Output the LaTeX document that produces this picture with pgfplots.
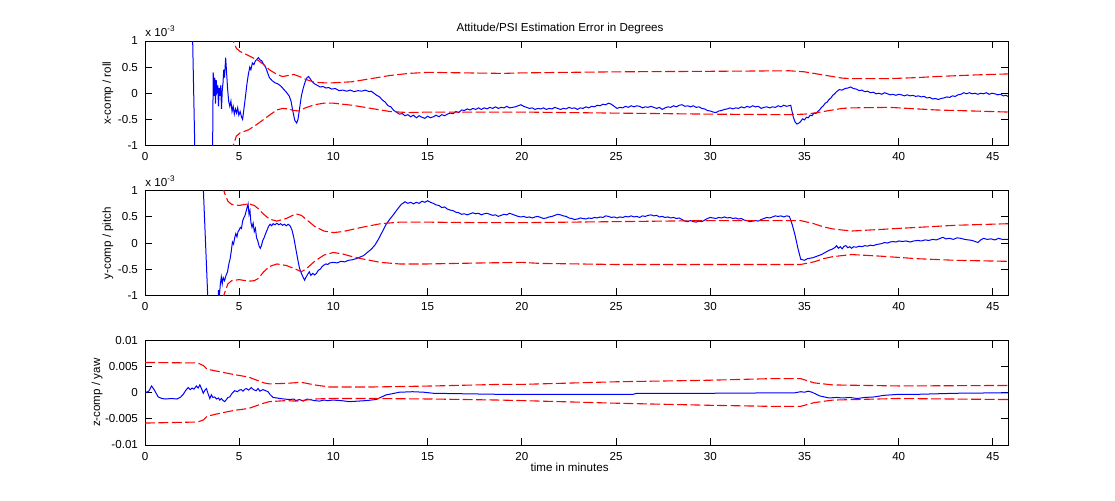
\documentclass[border=0pt]{standalone}
\usepackage{fontspec}
\setmainfont{Liberation Sans}
\usepackage{pgfplots}
\pgfplotsset{compat=1.18}
\definecolor{mblue}{RGB}{0,0,255}
\definecolor{mred}{RGB}{255,0,0}
\newcommand{\sm}{\fontsize{5.8}{7}\selectfont}

\pgfplotsset{
  errpanel/.style={
    scale only axis, width=431.5pt, height=52.25pt,
    anchor=south west,
    xmin=0, xmax=45.8,
    xtick={0,5,10,15,20,25,30,35,40,45},
    tick align=inside, xtick pos=both, ytick pos=both,
    major tick length=3.6pt,
    axis line style={line width=0.45pt},
    every tick/.style={black, line width=0.45pt},
    tick label style={font=\sm},
    label style={font=\sm},
    /pgf/number format/assume math mode=true,
    scaled y ticks=false,
    clip=true,
    ylabel style={at={(axis description cs:-0.043,0.5)}, anchor=center},
  },
  est/.style={mblue, line width=0.5pt},
  bound/.style={mred, line width=0.55pt, dash pattern=on 5pt off 1.7pt},
}

\begin{document}
\begin{tikzpicture}
\useasboundingbox (0,0) rectangle (557.5pt,250pt);

% ---------- x-comp / roll ----------
\begin{axis}[errpanel, name=ax1, at={(72.5pt,177.25pt)},
  ymin=-1, ymax=1, ytick={-1,-0.5,0,0.5,1},
  yticklabels={-1,-0.5,0,0.5,1},
  ylabel={x-comp / roll},
]
\addplot[est] coordinates {
(2.40,5)(2.53,1.0)(2.75,-3)(3.55,-3)(3.59,-1.0)(3.62,0.40)(3.66,-0.05)(3.70,0.30)(3.74,-0.20)
(3.78,0.25)(3.82,0.05)(3.86,0.15)(3.90,-0.25)(3.94,0.10)(3.98,-0.05)(4.02,0.15)(4.06,-0.30)
(4.10,0.05)(4.14,0.20)(4.18,0.45)(4.22,0.30)(4.28,0.68)(4.33,0.40)(4.38,0.10)(4.44,-0.15)
(4.50,-0.25)(4.56,-0.15)(4.62,-0.35)(4.68,-0.25)(4.74,-0.40)(4.80,-0.30)(4.86,-0.38)(4.92,-0.28)
(4.98,-0.42)(5.05,-0.35)(5.12,-0.45)(5.18,-0.50)(5.25,-0.30)(5.32,-0.10)(5.40,0.15)(5.48,0.35)
(5.56,0.50)(5.62,0.45)(5.70,0.58)(5.78,0.55)(5.86,0.62)(5.94,0.65)(6.02,0.68)(6.10,0.64)
(6.20,0.62)(6.30,0.55)(6.40,0.50)(6.50,0.40)(6.60,0.30)(6.75,0.24)(6.90,0.20)(7.05,0.18)
(7.20,0.14)(7.35,0.08)(7.50,0.02)(7.65,-0.05)(7.75,-0.15)(7.85,-0.35)(7.95,-0.52)(8.05,-0.57)
(8.12,-0.50)(8.20,-0.30)(8.30,-0.05)(8.40,0.10)(8.50,0.22)(8.60,0.30)(8.68,0.32)(8.78,0.27)
(8.88,0.22)(9.00,0.18)(9.15,0.15)(9.30,0.12)(9.45,0.13)(9.60,0.10)(9.75,0.11)(9.90,0.08)
(10.1,0.09)(10.3,0.05)(10.5,0.06)(10.7,0.04)(10.9,0.06)(11.1,0.03)(11.3,0.05)(11.5,0.04)
(11.7,0.06)(11.9,0.03)
(12.0,0.04)(12.15,0.00)(12.3,-0.04)(12.45,-0.07)(12.6,-0.13)(12.75,-0.17)(12.9,-0.24)(13.05,-0.26)
(13.2,-0.33)(13.35,-0.36)(13.5,-0.40)(13.65,-0.39)(13.8,-0.43)(13.95,-0.41)(14.1,-0.45)(14.25,-0.42)
(14.4,-0.47)(14.55,-0.43)(14.7,-0.46)(14.85,-0.48)(15.0,-0.44)(15.15,-0.47)(15.3,-0.45)(15.45,-0.42)
(15.6,-0.45)(15.75,-0.41)(15.9,-0.43)(16.05,-0.40)(16.2,-0.38)(16.35,-0.39)(16.5,-0.35)(16.65,-0.37)
(16.8,-0.32)(16.95,-0.33)(17.1,-0.30)(17.25,-0.32)(17.4,-0.29)(17.55,-0.31)(17.7,-0.28)(17.85,-0.31)
(18.0,-0.28)(18.15,-0.30)(18.3,-0.27)(18.45,-0.29)(18.6,-0.26)(18.75,-0.29)(18.9,-0.27)(19.05,-0.28)
(19.2,-0.25)(19.35,-0.28)(19.5,-0.27)(19.65,-0.26)(19.8,-0.24)(19.95,-0.22)(20.1,-0.25)(20.25,-0.27)
(20.4,-0.29)(20.55,-0.28)(20.7,-0.31)(20.85,-0.29)(21.0,-0.30)(21.15,-0.28)(21.3,-0.31)(21.45,-0.29)
(21.6,-0.30)(21.75,-0.27)(21.9,-0.29)(22.05,-0.31)(22.2,-0.29)(22.35,-0.30)(22.5,-0.27)(22.65,-0.29)
(22.8,-0.28)(22.95,-0.31)(23.1,-0.28)(23.25,-0.29)(23.4,-0.26)(23.55,-0.28)(23.7,-0.25)(23.85,-0.26)
(24.0,-0.23)(24.15,-0.24)(24.3,-0.21)(24.45,-0.22)(24.6,-0.19)(24.75,-0.21)(24.9,-0.25)(25.05,-0.29)
(25.2,-0.27)(25.35,-0.28)(25.5,-0.25)(25.65,-0.27)(25.8,-0.24)(25.95,-0.26)(26.1,-0.24)(26.25,-0.25)
(26.4,-0.28)(26.55,-0.26)(26.7,-0.27)(26.85,-0.25)(27.0,-0.27)(27.15,-0.29)(27.3,-0.27)(27.45,-0.31)
(27.6,-0.28)(27.75,-0.26)(27.9,-0.27)(28.05,-0.24)(28.2,-0.26)(28.35,-0.23)(28.5,-0.22)(28.65,-0.25)
(28.8,-0.24)(28.95,-0.26)(29.1,-0.24)(29.25,-0.27)(29.4,-0.26)(29.55,-0.29)(29.7,-0.30)(29.85,-0.33)
(30.0,-0.34)(30.15,-0.36)(30.3,-0.37)(30.45,-0.34)(30.6,-0.33)(30.75,-0.31)(30.9,-0.30)(31.05,-0.28)
(31.2,-0.30)(31.35,-0.28)(31.5,-0.29)(31.65,-0.26)(31.8,-0.28)(31.95,-0.25)(32.1,-0.27)(32.25,-0.24)
(32.4,-0.26)(32.55,-0.25)(32.7,-0.29)(32.85,-0.27)(33.0,-0.26)(33.15,-0.28)(33.3,-0.26)(33.45,-0.27)
(33.6,-0.24)(33.75,-0.26)(33.9,-0.23)(34.05,-0.25)(34.27,-0.23)
(34.4,-0.45)(34.5,-0.55)(34.6,-0.59)(34.75,-0.56)(34.9,-0.49)(35.0,-0.51)(35.1,-0.46)(35.2,-0.47)
(35.3,-0.42)(35.4,-0.43)(35.5,-0.38)(35.6,-0.39)(35.7,-0.35)(35.8,-0.32)(35.9,-0.27)(36.0,-0.24)
(36.1,-0.19)(36.2,-0.17)(36.3,-0.12)(36.4,-0.09)(36.5,-0.04)(36.6,-0.01)
(36.7,0.03)(36.85,0.07)(37.0,0.06)(37.15,0.09)(37.3,0.10)(37.45,0.12)(37.6,0.09)(37.75,0.08)
(37.9,0.05)(38.05,0.06)(38.2,0.03)(38.35,0.04)(38.5,0.01)(38.65,0.02)(38.8,-0.01)(38.95,0.00)
(39.1,-0.02)(39.25,0.01)(39.4,-0.01)(39.55,-0.03)(39.7,-0.02)(39.85,-0.04)(40.0,-0.02)(40.15,-0.03)
(40.3,-0.05)(40.45,-0.03)(40.6,-0.05)(40.75,-0.04)(40.9,-0.06)(41.05,-0.05)(41.2,-0.07)(41.35,-0.06)
(41.5,-0.09)(41.65,-0.08)(41.8,-0.11)(41.95,-0.10)(42.1,-0.12)(42.25,-0.10)(42.4,-0.09)(42.55,-0.07)
(42.7,-0.08)(42.85,-0.05)(43.0,-0.06)(43.15,-0.03)(43.3,-0.02)(43.45,0.01)(43.6,-0.01)(43.75,0.01)
(43.9,-0.01)(44.05,0.00)(44.2,-0.02)(44.35,0.00)(44.5,-0.01)(44.65,0.01)(44.8,-0.02)(44.95,0.00)
(45.1,-0.01)(45.25,-0.03)(45.4,-0.02)(45.55,-0.05)(45.7,-0.04)(45.8,-0.06)
};
\addplot[bound] coordinates {
(4.55,1.15)(4.68,1.0)(4.85,0.86)(5.04,0.80)(5.5,0.72)(6.0,0.63)(6.3,0.55)(6.6,0.45)(7.0,0.36)
(7.3,0.32)(7.6,0.34)(7.9,0.36)(8.2,0.32)(8.5,0.27)(9.0,0.21)(9.5,0.20)(10.0,0.20)(11.0,0.22)
(12.0,0.28)(13.0,0.34)(14.0,0.38)(15.0,0.40)(17.0,0.39)(19.0,0.38)(20.0,0.39)(25.0,0.41)
(30.0,0.42)(34.2,0.43)(35.0,0.41)(35.5,0.38)(36.0,0.35)(36.5,0.32)(37.0,0.29)(37.5,0.28)
(39.5,0.28)(41.0,0.30)(42.0,0.32)(44.0,0.35)(45.8,0.37)
};
\addplot[bound] coordinates {
(4.55,-1.15)(4.68,-1.0)(4.85,-0.82)(5.04,-0.76)(5.5,-0.70)(6.0,-0.58)(6.3,-0.50)(6.6,-0.42)
(7.0,-0.32)(7.3,-0.29)(7.6,-0.30)(7.9,-0.33)(8.2,-0.34)(8.5,-0.28)(9.0,-0.22)(9.5,-0.19)
(10.0,-0.19)(11.0,-0.23)(12.0,-0.29)(13.0,-0.35)(14.0,-0.37)(15.0,-0.36)(17.0,-0.36)(19.0,-0.36)
(20.0,-0.36)(25.0,-0.38)(30.0,-0.40)(34.2,-0.41)(35.0,-0.40)(35.5,-0.38)(36.0,-0.35)(36.5,-0.32)
(37.0,-0.29)(37.5,-0.28)(39.5,-0.27)(41.0,-0.30)(42.0,-0.32)(44.0,-0.34)(45.8,-0.36)
};
\end{axis}
\node[font=\sm, anchor=south west, inner sep=0pt] at ([yshift=2pt]ax1.north west) {x 10\textsuperscript{-3}};
\node[font=\sm, anchor=center] at (280pt,236pt) {Attitude/PSI Estimation Error in Degrees};

% ---------- y-comp / pitch ----------
\begin{axis}[errpanel, name=ax2, at={(72.5pt,102.35pt)},
  ymin=-1, ymax=1, ytick={-1,-0.5,0,0.5,1},
  yticklabels={-1,-0.5,0,0.5,1},
  ylabel={y-comp / pitch},
]
\addplot[est] coordinates {
(3.00,5)(3.10,1.0)(3.35,-1.2)(3.50,-3)(3.85,-3)(3.90,-0.90)(3.95,-1.0)(4.00,-0.78)(4.05,-0.65)
(4.10,-0.78)(4.15,-0.66)(4.22,-0.72)(4.30,-0.62)(4.38,-0.55)(4.45,-0.40)(4.52,-0.30)(4.58,-0.15)
(4.64,0.02)(4.70,-0.02)(4.76,0.10)(4.82,0.18)(4.88,0.12)(4.94,0.22)(5.00,0.25)(5.06,0.30)
(5.12,0.28)(5.18,0.42)(5.24,0.48)(5.30,0.52)(5.36,0.60)(5.42,0.68)(5.47,0.75)(5.52,0.55)
(5.57,0.62)(5.62,0.40)(5.68,0.30)(5.74,0.38)(5.80,0.22)(5.86,0.28)(5.92,0.10)(5.98,0.05)
(6.05,-0.05)(6.12,-0.10)(6.18,-0.05)(6.25,0.05)(6.32,0.10)(6.40,0.18)(6.48,0.25)(6.56,0.32)
(6.64,0.36)(6.72,0.33)(6.80,0.37)(6.90,0.35)(7.00,0.38)(7.10,0.35)(7.20,0.37)(7.30,0.34)
(7.40,0.36)(7.50,0.33)(7.60,0.36)(7.70,0.33)(7.80,0.25)(7.90,0.10)(8.00,-0.10)(8.10,-0.30)
(8.20,-0.48)(8.30,-0.58)(8.40,-0.66)(8.47,-0.71)(8.55,-0.65)(8.63,-0.60)(8.72,-0.55)(8.80,-0.62)
(8.90,-0.58)(9.00,-0.61)(9.10,-0.58)(9.20,-0.52)(9.30,-0.50)(9.40,-0.45)(9.50,-0.42)(9.60,-0.40)
(9.70,-0.41)(9.80,-0.38)(10.0,-0.37)(10.2,-0.38)(10.4,-0.35)(10.6,-0.36)(10.8,-0.33)(11.0,-0.32)
(11.2,-0.30)(11.4,-0.27)(11.6,-0.24)(11.8,-0.18)(12.0,-0.12)(12.2,-0.04)(12.4,0.08)(12.6,0.22)
(12.8,0.36)(13.0,0.46)(13.2,0.55)(13.4,0.65)(13.6,0.74)
(13.8,0.79)(13.95,0.76)(14.1,0.78)(14.25,0.75)(14.4,0.78)(14.55,0.76)(14.7,0.80)(14.85,0.78)
(15.0,0.81)(15.15,0.78)(15.3,0.76)(15.45,0.73)(15.6,0.72)(15.75,0.68)(15.9,0.69)(16.05,0.65)
(16.2,0.63)(16.35,0.62)(16.5,0.59)(16.65,0.58)(16.8,0.55)(16.95,0.56)(17.1,0.54)(17.25,0.56)
(17.4,0.58)(17.55,0.56)(17.7,0.57)(17.85,0.54)(18.0,0.56)(18.15,0.57)(18.3,0.55)(18.45,0.53)
(18.6,0.54)(18.75,0.51)(18.9,0.53)(19.05,0.55)(19.2,0.54)(19.35,0.57)(19.5,0.55)(19.65,0.53)
(19.8,0.51)(19.95,0.50)(20.1,0.51)(20.25,0.49)(20.4,0.50)(20.55,0.48)(20.7,0.50)(20.85,0.51)
(21.0,0.49)(21.15,0.47)(21.3,0.48)(21.45,0.50)(21.6,0.51)(21.75,0.53)(21.9,0.55)(22.05,0.54)
(22.2,0.52)(22.35,0.51)(22.5,0.48)(22.65,0.47)(22.8,0.45)(22.95,0.46)(23.1,0.48)(23.25,0.47)
(23.4,0.46)(23.55,0.48)(23.7,0.47)(23.85,0.49)(24.0,0.48)(24.15,0.50)(24.3,0.49)(24.45,0.52)
(24.6,0.51)(24.75,0.49)(24.9,0.50)(25.05,0.48)(25.2,0.50)(25.35,0.49)(25.5,0.51)(25.65,0.50)
(25.8,0.52)(25.95,0.50)(26.1,0.51)(26.25,0.49)(26.4,0.52)(26.55,0.51)(26.7,0.53)(26.85,0.54)
(27.0,0.52)(27.15,0.53)(27.3,0.50)(27.45,0.51)(27.6,0.49)(27.75,0.50)(27.9,0.48)(28.05,0.49)
(28.2,0.47)(28.35,0.48)(28.5,0.45)(28.65,0.42)(28.8,0.41)(28.95,0.43)(29.1,0.41)(29.25,0.40)
(29.4,0.42)(29.55,0.41)(29.7,0.44)(29.85,0.47)(30.0,0.49)(30.15,0.48)(30.3,0.47)(30.45,0.49)
(30.6,0.48)(30.75,0.50)(30.9,0.48)(31.05,0.49)(31.2,0.47)(31.35,0.48)(31.5,0.46)(31.65,0.47)
(31.8,0.44)(31.95,0.43)(32.1,0.41)(32.25,0.42)(32.4,0.43)(32.55,0.42)(32.7,0.45)(32.85,0.47)
(33.0,0.49)(33.15,0.48)(33.3,0.50)(33.45,0.52)(33.6,0.51)(33.75,0.52)(33.9,0.50)(34.05,0.52)
(34.2,0.51)(34.35,0.35)(34.5,0.15)(34.65,-0.10)(34.8,-0.31)(35.0,-0.33)(35.15,-0.30)(35.3,-0.29)
(35.45,-0.28)(35.6,-0.26)(35.75,-0.24)(35.9,-0.22)
(36.0,-0.20)(36.15,-0.17)(36.3,-0.14)(36.45,-0.12)(36.6,-0.09)(36.7,-0.05)(36.8,-0.10)(36.9,-0.07)
(37.0,-0.11)(37.1,-0.06)(37.2,-0.05)(37.3,-0.09)(37.4,-0.07)(37.5,-0.10)(37.6,-0.07)(37.75,-0.08)
(37.9,-0.06)(38.05,-0.07)(38.2,-0.05)(38.35,-0.06)(38.5,-0.04)(38.65,-0.05)(38.8,-0.03)(38.95,-0.02)
(39.1,-0.01)(39.25,0.01)(39.4,0.00)(39.55,0.02)(39.7,0.03)(39.85,0.02)(40.0,0.04)(40.2,0.03)
(40.4,0.04)(40.6,0.02)(40.8,0.04)(41.0,0.05)(41.2,0.04)(41.4,0.06)(41.6,0.05)(41.8,0.07)
(42.0,0.06)(42.2,0.09)(42.35,0.11)(42.5,0.08)(42.7,0.09)(42.9,0.07)(43.1,0.10)(43.3,0.09)
(43.5,0.07)(43.7,0.06)(43.9,0.05)(44.05,0.03)(44.2,0.01)(44.35,0.06)(44.5,0.09)(44.7,0.07)
(44.9,0.08)(45.1,0.06)(45.3,0.09)(45.5,0.07)(45.8,0.07)
};
\addplot[bound] coordinates {
(4.1,1.1)(4.23,0.95)(4.4,0.80)(4.6,0.74)(5.0,0.72)(5.5,0.75)(5.8,0.72)(6.0,0.66)(6.3,0.55)
(6.6,0.46)(7.0,0.42)(7.5,0.47)(8.0,0.56)(8.3,0.53)(8.6,0.44)(9.0,0.32)(9.5,0.23)(10.0,0.20)
(10.5,0.22)(11.0,0.26)(11.5,0.30)(12.5,0.37)(13.5,0.40)(15.0,0.40)(18.0,0.39)(20.0,0.39)
(25.0,0.41)(30.0,0.43)(34.8,0.43)(35.5,0.37)(36.0,0.31)(36.5,0.27)(37.5,0.23)(39.0,0.26)
(41.0,0.30)(43.0,0.34)(45.8,0.37)
};
\addplot[bound] coordinates {
(4.1,-1.1)(4.23,-0.95)(4.4,-0.78)(4.6,-0.72)(5.0,-0.70)(5.5,-0.73)(5.8,-0.72)(6.0,-0.68)
(6.3,-0.55)(6.6,-0.45)(7.0,-0.40)(7.5,-0.43)(8.0,-0.50)(8.3,-0.55)(8.6,-0.48)(9.0,-0.35)
(9.5,-0.23)(10.0,-0.18)(10.5,-0.21)(11.0,-0.26)(11.5,-0.30)(12.5,-0.37)(13.5,-0.40)(15.0,-0.40)
(18.0,-0.38)(20.0,-0.37)(21.0,-0.39)(25.0,-0.41)(30.0,-0.41)(34.8,-0.41)(35.5,-0.36)(36.0,-0.30)
(36.5,-0.26)(37.5,-0.22)(39.0,-0.25)(41.0,-0.30)(43.0,-0.33)(45.8,-0.35)
};
\end{axis}
\node[font=\sm, anchor=south west, inner sep=0pt] at ([yshift=2pt]ax2.north west) {x 10\textsuperscript{-3}};

% ---------- z-comp / yaw (values in 1e-3) ----------
\begin{axis}[errpanel, at={(72.5pt,27.5pt)},
  ymin=-10, ymax=10, ytick={-10,-5,0,5,10},
  yticklabels={-0.01,-0.005,0,0.005,0.01},
  ylabel={z-comp / yaw},
  ylabel style={at={(axis description cs:-0.0556,0.5)}},
  xlabel={time in minutes},
  xlabel style={at={(axis description cs:0.492,0)}, anchor=center, yshift=-11pt},
]
\addplot[est] coordinates {
(0.0,0.0)(0.2,0.3)(0.35,1.3)(0.5,0.5)(0.7,-0.8)(0.9,-1.1)(1.1,-1.2)(1.4,-1.1)(1.7,-1.2)
(1.9,-0.8)(2.03,-0.3)(2.15,0.4)(2.29,1.0)(2.4,0.6)(2.5,0.9)(2.6,0.7)(2.73,1.3)(2.82,0.9)
(2.91,1.5)(3.0,0.8)(3.09,-0.1)(3.18,0.5)(3.26,0.8)(3.35,-0.2)(3.44,-1.1)(3.52,-0.4)(3.6,-0.9)
(3.7,-0.8)(3.8,-1.2)(3.9,-1.0)(3.97,-1.4)(4.05,-1.1)(4.15,-1.5)(4.23,-1.7)(4.32,-1.3)(4.4,-0.9)
(4.5,-0.8)(4.6,-0.2)(4.76,0.4)(4.9,0.2)(5.0,0.5)(5.11,0.6)(5.2,0.3)(5.3,0.7)(5.38,0.8)
(5.5,0.5)(5.64,1.0)(5.75,0.6)(5.9,0.4)(6.0,0.8)(6.1,0.3)(6.26,0.6)(6.4,0.4)(6.53,0.2)
(6.65,-0.4)(6.8,-0.9)(7.0,-1.0)(7.14,-1.1)(7.4,-1.2)(7.67,-1.3)(7.9,-1.2)(8.0,-1.5)(8.2,-1.3)
(8.4,-1.6)(8.6,-1.2)(8.73,-1.3)(9.0,-1.5)(9.26,-1.6)(9.5,-1.4)(9.7,-1.5)(9.97,-1.4)(10.4,-1.5)
(10.85,-1.7)(11.3,-1.6)(11.73,-1.5)(12.26,-1.3)(12.5,-0.9)(12.8,-0.4)(13.1,-0.2)(13.5,0.1)
(14.2,0.2)(14.8,0.1)(15.3,-0.1)(17,-0.2)(18.8,-0.3)(22,-0.3)(25.9,-0.3)(26.1,-0.1)(30,-0.1)
(34.5,0.0)(34.8,0.2)(35.0,0.1)(35.2,0.3)(35.4,0.1)(35.8,-0.6)(36.3,-1.0)(36.7,-0.9)(37.0,-1.0)
(37.4,-0.9)(37.8,-1.1)(38.2,-0.9)(38.7,-0.8)(39.2,-0.5)(39.6,-0.4)(40.0,-0.3)(41,-0.3)
(43,-0.1)(45.8,0.0)
};
\addplot[bound] coordinates {
(0,5.8)(2.8,5.7)(3.1,5.2)(3.3,4.5)(4.0,4.0)(4.7,3.5)(5.5,3.0)(6.3,1.9)(6.6,1.7)(7.5,1.8)
(8.3,2.0)(9.0,1.5)(9.8,1.1)(12.0,1.1)(15.3,1.3)(18.8,1.6)(20.0,1.6)(25.0,2.1)(30.0,2.4)
(33.2,2.7)(34.8,2.7)(35.5,1.9)(36.5,1.5)(40.0,1.3)(45.8,1.4)
};
\addplot[bound] coordinates {
(0,-5.8)(2.8,-5.6)(3.1,-5.2)(3.3,-4.5)(4.0,-3.9)(4.7,-3.4)(5.5,-3.0)(6.3,-2.0)(6.6,-1.7)
(7.5,-1.5)(8.0,-1.6)(8.3,-1.5)(9.0,-1.2)(9.8,-1.1)(12.0,-1.1)(15.3,-1.2)(18.8,-1.4)(20.0,-1.5)
(25.0,-2.0)(30.0,-2.4)(33.2,-2.6)(34.8,-2.6)(35.5,-1.9)(36.5,-1.4)(40.0,-1.1)(45.8,-1.3)
};
\end{axis}
\end{tikzpicture}
\end{document}
